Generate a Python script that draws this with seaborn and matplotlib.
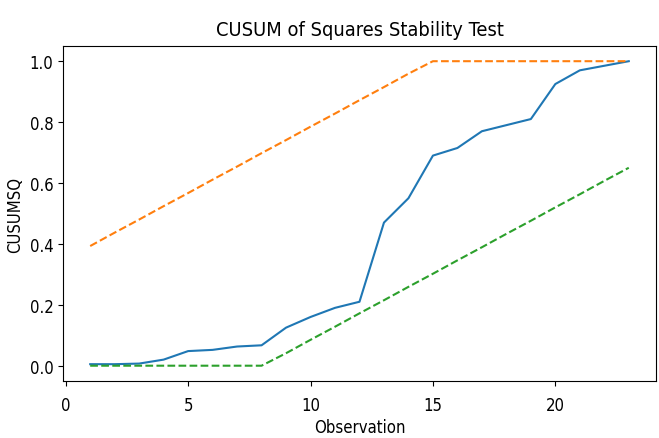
import numpy as np
import pandas as pd
import seaborn as sns
from matplotlib import pyplot as plt

# observation index
obs = list(range(1, 24))

# cusum of squares statistic
cusumsq = [0.005, 0.005, 0.007, 0.02, 0.048, 0.052, 0.063, 0.067, 0.125, 0.16,
           0.19, 0.21, 0.47, 0.55, 0.69, 0.715, 0.77, 0.79, 0.81, 0.925,
           0.97, 0.985, 1.0]

# confidence bounds
upper = [0.393, 0.437, 0.480, 0.524, 0.567, 0.611, 0.654, 0.698, 0.741, 0.785,
         0.828, 0.872, 0.915, 0.959, 1.0, 1.0, 1.0, 1.0, 1.0, 1.0,
         1.0, 1.0, 1.0]
lower = [0.0, 0.0, 0.0, 0.0, 0.0, 0.0, 0.0, 0.0, 0.041, 0.085,
         0.128, 0.172, 0.215, 0.259, 0.302, 0.346, 0.389, 0.433, 0.476, 0.520,
         0.563, 0.607, 0.65]

colors = ["#1f77b4", "#ff7f0e", "#2ca02c"]

# the reference text looks tall and narrow
plt.rcParams['font.family'] = ['DejaVu Sans']
plt.rcParams['font.stretch'] = 'condensed'
plt.rcParams['font.size'] = 12

fig = plt.figure(figsize=(6.59, 4.39), dpi=100)
ax = fig.add_axes([0.096, 0.130, 0.899, 0.763])

sns.lineplot(x=obs, y=cusumsq, color=colors[0], linewidth=1.5, ax=ax)
sns.lineplot(x=obs, y=upper, color=colors[1], linestyle='--', linewidth=1.5, ax=ax)
sns.lineplot(x=obs, y=lower, color=colors[2], linestyle='--', linewidth=1.5, ax=ax)

ax.set_title("CUSUM of Squares Stability Test", pad=8)
ax.set_xlabel("Observation", labelpad=3)
ax.set_ylabel("CUSUMSQ", labelpad=4)
ax.set_xticks([0, 5, 10, 15, 20])
ax.set_yticks([0.0, 0.2, 0.4, 0.6, 0.8, 1.0])
ax.tick_params(axis='x', pad=7)

fig.savefig("out.png", dpi=100)
